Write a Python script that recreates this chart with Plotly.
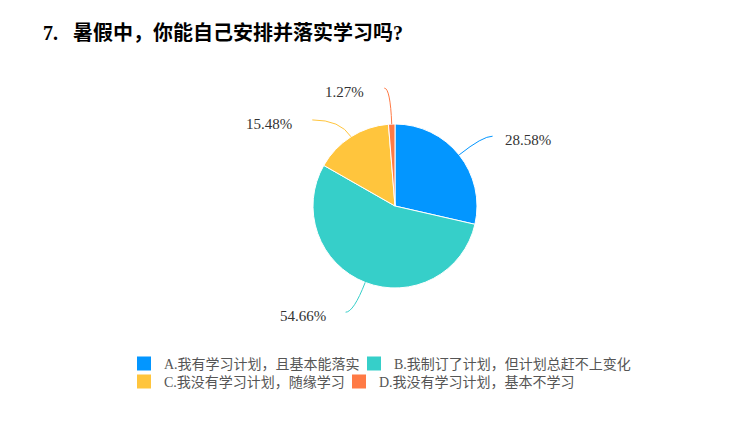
import math
import plotly.graph_objects as go

# data
categories = [
    "A.我有学习计划，且基本能落实",
    "B.我制订了计划，但计划总赶不上变化",
    "C.我没有学习计划，随缘学习",
    "D.我没有学习计划，基本不学习",
]
percents = [28.58, 54.66, 15.48, 1.27]
colors = ["#0396FF", "#36CFC9", "#FFC53D", "#FF7A45"]

W, H = 751, 440
OFF = 8                           # page body margin in the screenshot
CX, CY, R = 395, 206, 82          # pie centre / radius (screen px)
# leader line (radial part, horizontal part) in px, per slice
line_len = [(30, 10), (32, 8), (20, 28), (36, 6)]
# where each legend entry sits (screen px, left / top)
legend_pos = [(124, 348), (354, 348), (124, 366), (339, 366)]


def px_x(x):
    return (x - OFF) / W


def px_y(y):
    return 1 - (y - OFF) / H


fig = go.Figure()
fig.add_trace(go.Pie(
    labels=categories,
    values=percents,
    sort=False,
    direction="clockwise",
    rotation=0,
    textinfo="none",
    showlegend=False,
    marker=dict(colors=colors, line=dict(color="white", width=1)),
    domain=dict(x=[px_x(CX - R), px_x(CX + R)], y=[px_y(CY + R), px_y(CY - R)]),
    hovertemplate="%{label}<br>%{value}%<extra></extra>",
))

# legend entries, one small legend each so they sit like the original
legend_font = dict(family="Liberation Serif, Noto Sans CJK SC", size=14, color="#555555")
legends = {}
for i, (cat, col, (lx, ly)) in enumerate(zip(categories, colors, legend_pos)):
    name = "legend" if i == 0 else f"legend{i + 1}"
    fig.add_trace(go.Bar(x=[None], y=[None], name=cat,
                         marker=dict(color=col, line=dict(color=col, width=2)),
                         legend=name, showlegend=True, hoverinfo="skip"))
    legends[name] = dict(orientation="h", x=px_x(lx), y=px_y(ly),
                         xanchor="left", yanchor="top", font=legend_font,
                         itemwidth=30, bgcolor="rgba(0,0,0,0)")

# curved leader lines + outside labels, placed from the slice angles
total = sum(percents)
cum = 0
for val, col, (l1, l2) in zip(percents, colors, line_len):
    a = math.radians((cum + val / 2) / total * 360)
    cum += val
    s, c = math.sin(a), math.cos(a)
    side = 1 if s >= 0 else -1
    x0, y0 = CX + R * s, CY - R * c
    x1, y1 = CX + (R + l1) * s, CY - (R + l1) * c
    x2, y2 = x1 + side * l2, y1
    fig.add_shape(
        type="path", xref="paper", yref="paper",
        path=f"M {px_x(x0)},{px_y(y0)} Q {px_x(x1)},{px_y(y1)} {px_x(x2)},{px_y(y2)}",
        line=dict(color=col, width=1),
    )
    gap = 10 if side > 0 else 18
    fig.add_annotation(
        x=px_x(x2 + side * gap), y=px_y(y2 + 4), xref="paper", yref="paper",
        text=f"{val:.2f}%", showarrow=False,
        xanchor="left" if side > 0 else "right", yanchor="middle",
        font=dict(family="Liberation Serif", size=15, color="#333333"),
    )

fig.update_layout(
    width=W, height=H,
    margin=dict(l=0, r=0, t=0, b=0),
    paper_bgcolor="white", plot_bgcolor="white",
    xaxis=dict(visible=False), yaxis=dict(visible=False),
    title=dict(
        text="<b>7.\u00a0\u00a0\u00a0暑假中，你能自己安排并落实学习吗?</b>",
        xref="container", yref="container",
        x=px_x(43), y=px_y(33), xanchor="left", yanchor="middle",
        font=dict(family="Liberation Serif, Noto Sans CJK SC", size=20, color="#000000"),
    ),
    **legends,
)

fig.write_html("out.html")
